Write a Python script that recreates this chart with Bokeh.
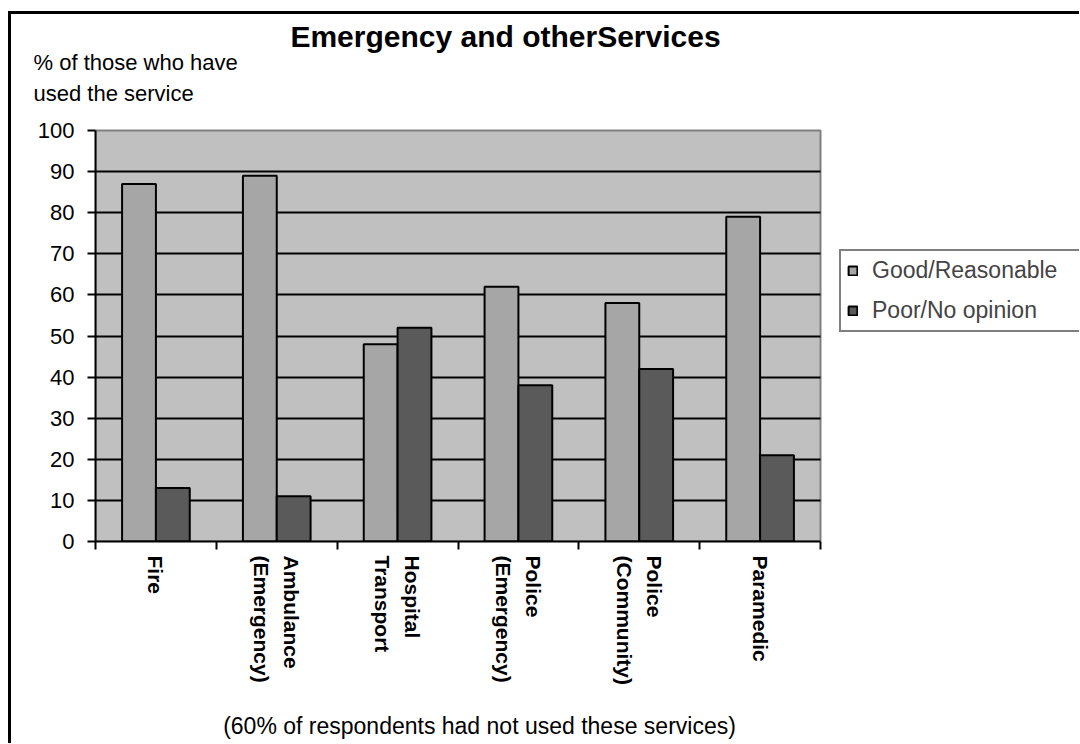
import math
from bokeh.plotting import figure
from bokeh.layouts import column
from bokeh.models import ColumnDataSource, Range1d, FixedTicker, Label, Legend, LegendItem
from bokeh.transform import dodge
from bokeh.embed import file_html
from bokeh.resources import INLINE

# ---- data ----
categories = ["Fire", "Ambulance\n(Emergency)", "Hospital\nTransport",
              "Police\n(Emergency)", "Police\n(Community)", "Paramedic"]
good = [87, 89, 48, 62, 58, 79]
poor = [13, 11, 52, 38, 42, 21]
series_names = ["Good/Reasonable", "Poor/No opinion"]
y_ticks = [0, 10, 20, 30, 40, 50, 60, 70, 80, 90, 100]
title_text = "Emergency and otherServices"
ylabel_lines = ["% of those who have", "used the service"]
note_text = "(60% of respondents had not used these services)"

FONT = "Liberation Sans"

# ---- layout constants (pixels) ----
W = 1068            # canvas width
HEAD_H = 100        # header strip (title + y-axis caption)
MAIN_H = 586        # chart canvas
FOOT_H = 43         # footnote strip
LEFT = 84           # frame left inside canvas
FRAME_H = 427       # frame height (top of chart canvas to x axis)
PLOT_W = 725        # width of the plotting area for the categories
PLOT_H = 411        # height of 0..100

ncat = len(categories)
x_end = ncat * (W - LEFT) / PLOT_W
y_end = y_ticks[-1] * FRAME_H / PLOT_H


def strip(height):
    f = figure(width=W, height=height, output_backend="svg", toolbar_location=None,
               x_range=Range1d(0, 1), y_range=Range1d(0, 1),
               x_axis_type=None, y_axis_type=None,
               min_border_left=0, min_border_right=0, min_border_top=0, min_border_bottom=0)
    f.outline_line_color = None
    f.background_fill_color = "white"
    f.border_fill_color = "white"
    return f


head = strip(HEAD_H)
foot = strip(FOOT_H)
shift = 0
try:
    head.frame_align = False
    foot.frame_align = False
except AttributeError:
    shift = LEFT


def txt(fig, x, y, text, size, bold=False, align="left"):
    fig.add_layout(Label(x=x - shift, y=y, x_units="screen", y_units="screen", text=text,
                         text_font=FONT, text_font_style="bold" if bold else "normal",
                         text_font_size=size, text_align=align, text_baseline="middle",
                         text_color="black"))


txt(head, 494, 78, title_text, "30px", bold=True, align="center")
txt(head, 22, 52, ylabel_lines[0], "22px")
txt(head, 22, 21, ylabel_lines[1], "22px")
txt(foot, 468, 18, note_text, "23px", align="center")

# ---- main chart ----
pos = [i + 0.5 for i in range(ncat)]
src = ColumnDataSource(dict(x=pos, good=good, poor=poor))

p = figure(width=W, height=MAIN_H, output_backend="svg", toolbar_location=None,
           x_range=Range1d(0, x_end), y_range=Range1d(0, y_end),
           min_border_left=LEFT, min_border_right=0, min_border_top=0,
           min_border_bottom=MAIN_H - FRAME_H)
p.background_fill_color = "white"
p.border_fill_color = "white"
p.outline_line_color = None

# plot area (grey) with grey border
p.quad(left=[0], right=[ncat], bottom=[y_ticks[0]], top=[y_ticks[-1]],
       fill_color="#C0C0C0", line_color="#808080", line_width=2, level="image")

r1 = p.vbar(x=dodge("x", -0.14), top="good", width=0.28, source=src,
            fill_color="#A6A6A6", line_color="black", line_width=2)
r2 = p.vbar(x=dodge("x", 0.14), top="poor", width=0.28, source=src,
            fill_color="#5A5A5A", line_color="black", line_width=2)

# grid
p.xgrid.visible = False
p.ygrid.ticker = FixedTicker(ticks=y_ticks[1:-1])
p.ygrid.grid_line_color = "black"
p.ygrid.grid_line_width = 2
try:
    p.ygrid.cross_bounds = (0, ncat)
except AttributeError:
    p.quad(left=[ncat], right=[x_end], bottom=[0], top=[y_end], fill_color="white",
           line_color=None, level="underlay")

# y axis
p.yaxis.bounds = (y_ticks[0], y_ticks[-1])
p.yaxis.ticker = FixedTicker(ticks=y_ticks)
p.yaxis.major_label_text_font = FONT
p.yaxis.major_label_text_font_size = "22px"
p.yaxis.major_label_text_color = "black"
p.yaxis.axis_line_width = 2
p.yaxis.axis_line_color = "black"
p.yaxis.major_tick_line_width = 2
p.yaxis.major_tick_line_color = "black"
p.yaxis.major_tick_out = 8
p.yaxis.major_tick_in = 0
p.yaxis.minor_tick_line_color = None
p.yaxis.major_label_standoff = 13

# x axis
p.xaxis.bounds = (0, ncat)
p.xaxis.ticker = FixedTicker(ticks=pos, minor_ticks=list(range(ncat + 1)))
p.xaxis.major_label_overrides = {x: c for x, c in zip(pos, categories)}
p.xaxis.major_tick_line_color = None
p.xaxis.major_tick_out = 8
p.xaxis.major_tick_in = 0
p.xaxis.minor_tick_out = 8
p.xaxis.minor_tick_in = 0
p.xaxis.minor_tick_line_width = 2
p.xaxis.minor_tick_line_color = "black"
p.xaxis.axis_line_width = 2
p.xaxis.axis_line_color = "black"
p.xaxis.major_label_orientation = -math.pi / 2
p.xaxis.major_label_text_font = FONT
p.xaxis.major_label_text_font_style = "bold"
p.xaxis.major_label_text_font_size = "21px"
p.xaxis.major_label_text_color = "black"
p.xaxis.major_label_text_line_height = 1.3
p.xaxis.major_label_standoff = 6

# legend
legend = Legend(items=[LegendItem(label=series_names[0], renderers=[r1]),
                       LegendItem(label=series_names[1], renderers=[r2])],
                location=(744, 209))
legend.border_line_color = "black"
legend.border_line_width = 2
legend.background_fill_color = "white"
legend.background_fill_alpha = 1
legend.label_text_font = FONT
legend.label_text_font_size = "23px"
legend.glyph_width = 11
legend.glyph_height = 11
legend.label_standoff = 14
legend.spacing = 13
legend.padding = 6
legend.margin = 0
legend.label_height = 26
legend.label_width = 230
p.add_layout(legend, "center")

root = column(head, p, foot, spacing=0)
root.styles = {"border-left": "3px solid black", "border-top": "3px solid black",
               "margin-left": "8px", "margin-top": "11px"}

open("out.html", "w").write(file_html(root, INLINE))
